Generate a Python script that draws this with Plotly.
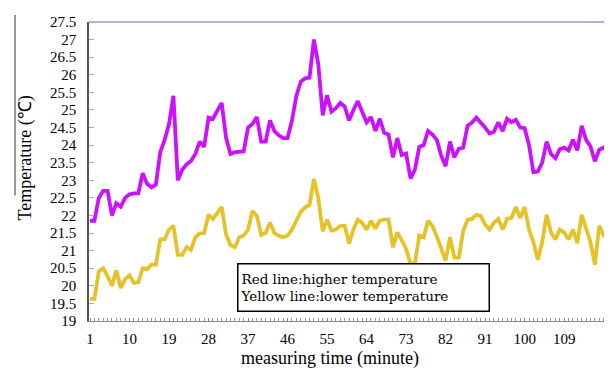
import plotly.graph_objects as go

minutes = list(range(1, 121))

higher_temp = [
    21.85, 21.85, 22.5, 22.7, 22.7, 22.0, 22.35, 22.25, 22.5, 22.6,
    22.63, 22.63, 23.2, 22.9, 22.8, 22.88, 23.8, 24.15, 24.6, 25.4,
    23.0, 23.3, 23.45, 23.55, 23.75, 24.1, 23.95, 24.78, 24.75, 25.0,
    25.2, 24.2, 23.75, 23.8, 23.82, 23.82, 24.5, 24.6, 24.8, 24.1,
    24.1, 24.7, 24.4, 24.28, 24.2, 24.2, 24.7, 25.4, 25.8, 25.9,
    25.92, 27.0, 26.3, 24.85, 25.42, 24.95, 25.05, 25.2, 25.1, 24.7,
    25.0, 25.25, 24.95, 24.65, 24.8, 24.4, 24.75, 24.35, 24.3, 23.65,
    24.2, 23.72, 23.76, 23.05, 23.3, 23.95, 24.0, 24.4, 24.3, 24.15,
    23.7, 23.4, 24.1, 23.65, 23.9, 23.93, 24.55, 24.64, 24.78, 24.65,
    24.5, 24.33, 24.38, 24.65, 24.4, 24.75, 24.65, 24.72, 24.5, 24.48,
    24.0, 23.23, 23.25, 23.5, 24.1, 23.75, 23.63, 23.88, 23.93, 23.85,
    24.15, 23.85, 24.55, 24.15, 23.96, 23.54, 23.87, 23.93, 23.82, 23.82,
]

lower_temp = [
    19.63, 19.63, 20.41, 20.5, 20.27, 20.0, 20.44, 19.94, 20.19, 20.3,
    20.08, 20.1, 20.5, 20.47, 20.6, 20.6, 21.32, 21.32, 21.6, 21.71,
    20.88, 20.88, 21.1, 21.02, 21.38, 21.49, 21.5, 22.02, 21.9, 22.05,
    22.24, 21.46, 21.16, 21.1, 21.38, 21.43, 21.6, 22.13, 21.99, 21.45,
    21.5, 21.8, 21.5, 21.42, 21.38, 21.43, 21.6, 21.85, 22.1, 22.23,
    22.3, 23.04, 22.5, 21.55, 21.88, 21.57, 21.6, 21.7, 21.71, 21.2,
    21.6, 21.88, 21.79, 21.6, 21.85, 21.63, 21.85, 21.88, 21.88, 21.1,
    21.52, 21.3, 21.05, 20.63, 20.63, 21.43, 21.38, 21.85, 21.7, 21.4,
    21.05, 20.72, 21.38, 20.8, 20.8, 21.55, 21.88, 21.9, 22.02, 21.99,
    21.74, 21.6, 21.79, 21.9, 21.6, 21.9, 21.93, 22.24, 21.93, 22.24,
    21.6, 21.24, 20.74, 21.24, 22.02, 21.52, 21.32, 21.6, 21.52, 21.32,
    21.6, 21.21, 22.02, 21.6, 21.24, 20.6, 21.71, 21.43, 21.43, 21.43,
]

x_tick_vals = [1, 10, 19, 28, 37, 46, 55, 64, 73, 82, 91, 100, 109]
y_tick_vals = [19, 19.5, 20, 20.5, 21, 21.5, 22, 22.5, 23, 23.5, 24,
               24.5, 25, 25.5, 26, 26.5, 27, 27.5]

SERIF = "Liberation Serif"

fig = go.Figure()
fig.add_trace(go.Scatter(x=minutes, y=higher_temp, mode="lines",
                         line=dict(color="#cc11ff", width=3.8),
                         name="Red line:higher temperature", showlegend=False))
fig.add_trace(go.Scatter(x=minutes, y=lower_temp, mode="lines",
                         line=dict(color="#e6c229", width=3.8),
                         name="Yellow line:lower temperature", showlegend=False))

fig.update_layout(
    width=612, height=380,
    margin=dict(l=81, r=8, t=6, b=67),
    plot_bgcolor="white", paper_bgcolor="white",
    font=dict(family=SERIF, color="black"),
    xaxis=dict(
        range=[0.77, 119.9], showgrid=False, zeroline=False,
        showline=True, linecolor="#888888", linewidth=1,
        tickmode="array", tickvals=x_tick_vals,
        ticks="inside", ticklen=3, tickcolor="#888888",
        minor=dict(tick0=1, dtick=1, ticks="inside", ticklen=3, tickcolor="#999999"),
        tickfont=dict(family=SERIF, size=15, color="black"),
        ticklabelstandoff=4, ticklabeloverflow="allow",
    ),
    yaxis=dict(
        range=[19, 27.5], showgrid=False, zeroline=False,
        showline=True, linecolor="#555555", linewidth=1.5,
        tickmode="array", tickvals=y_tick_vals,
        ticks="inside", ticklen=5, tickcolor="#aaaaaa",
        tickfont=dict(family=SERIF, size=15, color="black"),
        ticklabelstandoff=8, ticklabeloverflow="allow",
    ),
    shapes=[
        dict(type="line", xref="paper", yref="paper", x0=0, x1=1, y0=1, y1=1,
             line=dict(color="#a9b7dd", width=2)),
        dict(type="line", xref="paper", yref="paper", x0=-0.1415, x1=-0.1415,
             y0=1.023, y1=0.42, line=dict(color="#777777", width=1.5)),
    ],
    annotations=[
        dict(text="Temperature (℃)", xref="paper", yref="paper",
             x=-0.1224, y=0.547, textangle=-90, showarrow=False,
             xanchor="center", yanchor="middle",
             font=dict(family=SERIF, size=18, color="black")),
        dict(text="measuring time (minute)", xref="paper", yref="paper",
             x=0.461, y=-0.127, showarrow=False,
             xanchor="center", yanchor="middle",
             font=dict(family=SERIF, size=18, color="black")),
        dict(text="Red line:higher temperature<br>Yellow line:lower temperature",
             xref="paper", yref="paper", x=0.283, y=0.029,
             xanchor="left", yanchor="bottom", align="left", showarrow=False,
             width=246, height=42, borderpad=2,
             bordercolor="black", borderwidth=1.5, bgcolor="white",
             font=dict(family="DejaVu Serif", size=13.5, color="black")),
    ],
)

fig.write_html("out.html")
